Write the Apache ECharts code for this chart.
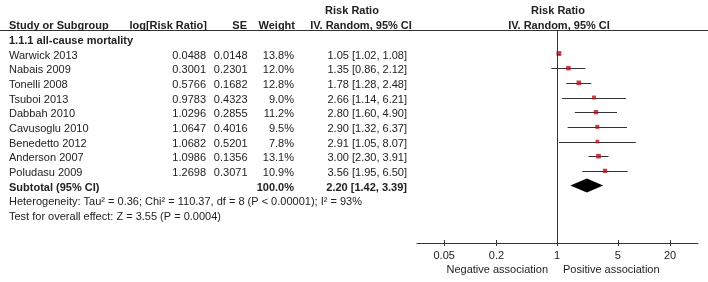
<!DOCTYPE html>
<html>
<head>
<meta charset="utf-8">
<script src="https://cdn.jsdelivr.net/npm/echarts@6/dist/echarts.min.js"></script>
<style>
  html, body { margin: 0; padding: 0; background: #fff; }
  #forest { width: 708px; height: 282px; }
</style>
</head>
<body>
<div id="forest"></div>
<script>
// study data
var studies = ['Warwick 2013', 'Nabais 2009', 'Tonelli 2008', 'Tsuboi 2013', 'Dabbah 2010',
  'Cavusoglu 2010', 'Benedetto 2012', 'Anderson 2007', 'Poludasu 2009'];
var logRR = [0.0488, 0.3001, 0.5766, 0.9783, 1.0296, 1.0647, 1.0682, 1.0986, 1.2698];
var se = [0.0148, 0.2301, 0.1682, 0.4323, 0.2855, 0.4016, 0.5201, 0.1356, 0.3071];
var weight = [13.8, 12.0, 12.8, 9.0, 11.2, 9.5, 7.8, 13.1, 10.9];
var rr = [1.05, 1.35, 1.78, 2.66, 2.80, 2.90, 2.91, 3.00, 3.56];
var lo = [1.02, 0.86, 1.28, 1.14, 1.60, 1.32, 1.05, 2.30, 1.95];
var hi = [1.08, 2.12, 2.48, 6.21, 4.90, 6.37, 8.07, 3.91, 6.50];
var subtotal = [2.20, 1.42, 3.39];
var subtotalWeight = 100.0;
var tickValues = [0.05, 0.2, 1, 5, 20];

var font = '"Liberation Sans", Arial, sans-serif';
var ink = '#222';

var myChart = echarts.init(document.getElementById('forest'));

var ciData = studies.map(function (s, i) { return [lo[i], hi[i], i]; });
var pointData = studies.map(function (s, i) { return [rr[i], i, weight[i]]; });
var subRow = studies.length;

var axisBase = {
  type: 'log',
  logBase: 10,
  min: 0.0243,
  max: 42,
  gridIndex: 0,
  position: 'bottom',
  splitLine: { show: false },
  axisLine: { onZero: false, lineStyle: { color: '#333', width: 1 } }
};

option = {
  animation: false,
  grid: { left: 417, right: 10, top: 30, bottom: 39 },
  xAxis: [
    Object.assign({}, axisBase, {
      axisTick: { length: 3, customValues: tickValues, lineStyle: { color: '#333' } },
      axisLabel: {
        customValues: tickValues,
        color: ink, fontSize: 11, fontFamily: font, margin: 7,
        formatter: function (v) { return String(parseFloat(Number(v).toPrecision(6))); }
      }
    }),
    Object.assign({}, axisBase, {
      axisLine: { show: false, onZero: false },
      axisTick: { inside: true, length: 3, customValues: tickValues, lineStyle: { color: '#333' } },
      axisLabel: { show: false }
    })
  ],
  yAxis: { type: 'value', inverse: true, min: -1.602, max: 12.918, show: false },
  series: [
    {
      name: 'ci',
      type: 'custom',
      data: ciData,
      encode: { x: [0, 1], y: 2 },
      renderItem: function (params, api) {
        var a = api.coord([api.value(0), api.value(2)]);
        var b = api.coord([api.value(1), api.value(2)]);
        return {
          type: 'line',
          shape: { x1: a[0], y1: Math.round(a[1]) + 0.5, x2: b[0], y2: Math.round(b[1]) + 0.5 },
          style: { stroke: '#333', lineWidth: 1 }
        };
      },
      markLine: {
        silent: true,
        symbol: 'none',
        label: { show: false },
        lineStyle: { color: '#333', width: 1, type: 'solid' },
        data: [{ xAxis: 1 }]
      },
      z: 2
    },
    {
      name: 'rr',
      type: 'scatter',
      data: pointData,
      symbol: 'rect',
      symbolSize: function (d) { return 1.3 * Math.sqrt(d[2]); },
      itemStyle: { color: '#b5121b' },
      z: 3
    },
    {
      name: 'subtotal',
      type: 'custom',
      data: [[subtotal[0], subtotal[1], subtotal[2], subRow]],
      encode: { x: [0, 1, 2], y: 3 },
      renderItem: function (params, api) {
        var c = api.coord([api.value(0), api.value(3)]);
        var l = api.coord([api.value(1), api.value(3)]);
        var r = api.coord([api.value(2), api.value(3)]);
        var h = 7;
        return {
          type: 'polygon',
          shape: { points: [[l[0], c[1]], [c[0], c[1] - h], [r[0], c[1]], [c[0], c[1] + h]] },
          style: { fill: '#000' }
        };
      },
      z: 3
    }
  ]
};

myChart.setOption(option);

// table text, placed on the same row scale
function rowY(i) { return myChart.convertToPixel({ yAxisIndex: 0 }, i) + 2; }
function txt(s, x, y, align, bold) {
  return {
    type: 'text', x: x, y: y,
    style: {
      text: s, fill: ink, font: (bold ? 'bold ' : '') + '11px ' + font,
      textAlign: align, textVerticalAlign: 'middle'
    }
  };
}
function ciText(a, b, c) { return a.toFixed(2) + ' [' + b.toFixed(2) + ', ' + c.toFixed(2) + ']'; }

var g = [];
g.push({ type: 'line', shape: { x1: 0, y1: 30.5, x2: 708, y2: 30.5 }, style: { stroke: '#333', lineWidth: 1 } });
g.push(txt('Risk Ratio', 352, 10.5, 'center', true));
g.push(txt('Risk Ratio', 558, 10.5, 'center', true));
var hy = rowY(-2);
g.push(txt('Study or Subgroup', 9, hy, 'left', true));
g.push(txt('log[Risk Ratio]', 207, hy, 'right', true));
g.push(txt('SE', 247, hy, 'right', true));
g.push(txt('Weight', 295, hy, 'right', true));
g.push(txt('IV. Random, 95% CI', 361, hy, 'center', true));
g.push(txt('IV. Random, 95% CI', 559, hy, 'center', true));
g.push(txt('1.1.1 all-cause mortality', 9, rowY(-1), 'left', true));
studies.forEach(function (s, i) {
  var y = rowY(i);
  g.push(txt(s, 9, y, 'left', false));
  g.push(txt(logRR[i].toFixed(4), 206, y, 'right', false));
  g.push(txt(se[i].toFixed(4), 247.5, y, 'right', false));
  g.push(txt(weight[i].toFixed(1) + '%', 294, y, 'right', false));
  g.push(txt(ciText(rr[i], lo[i], hi[i]), 407, y, 'right', false));
});
var sy = rowY(subRow);
g.push(txt('Subtotal (95% CI)', 9, sy, 'left', true));
g.push(txt(subtotalWeight.toFixed(1) + '%', 294, sy, 'right', true));
g.push(txt(ciText(subtotal[0], subtotal[1], subtotal[2]), 407, sy, 'right', true));
g.push(txt('Heterogeneity: Tau\u00b2 = 0.36; Chi\u00b2 = 110.37, df = 8 (P < 0.00001); I\u00b2 = 93%', 9, rowY(subRow + 1), 'left', false));
g.push(txt('Test for overall effect: Z = 3.55 (P = 0.0004)', 9, rowY(subRow + 2), 'left', false));
g.push(txt('Negative association', 548, 270, 'right', false));
g.push(txt('Positive association', 563, 270, 'left', false));

myChart.setOption({ graphic: g });
</script>
</body>
</html>
